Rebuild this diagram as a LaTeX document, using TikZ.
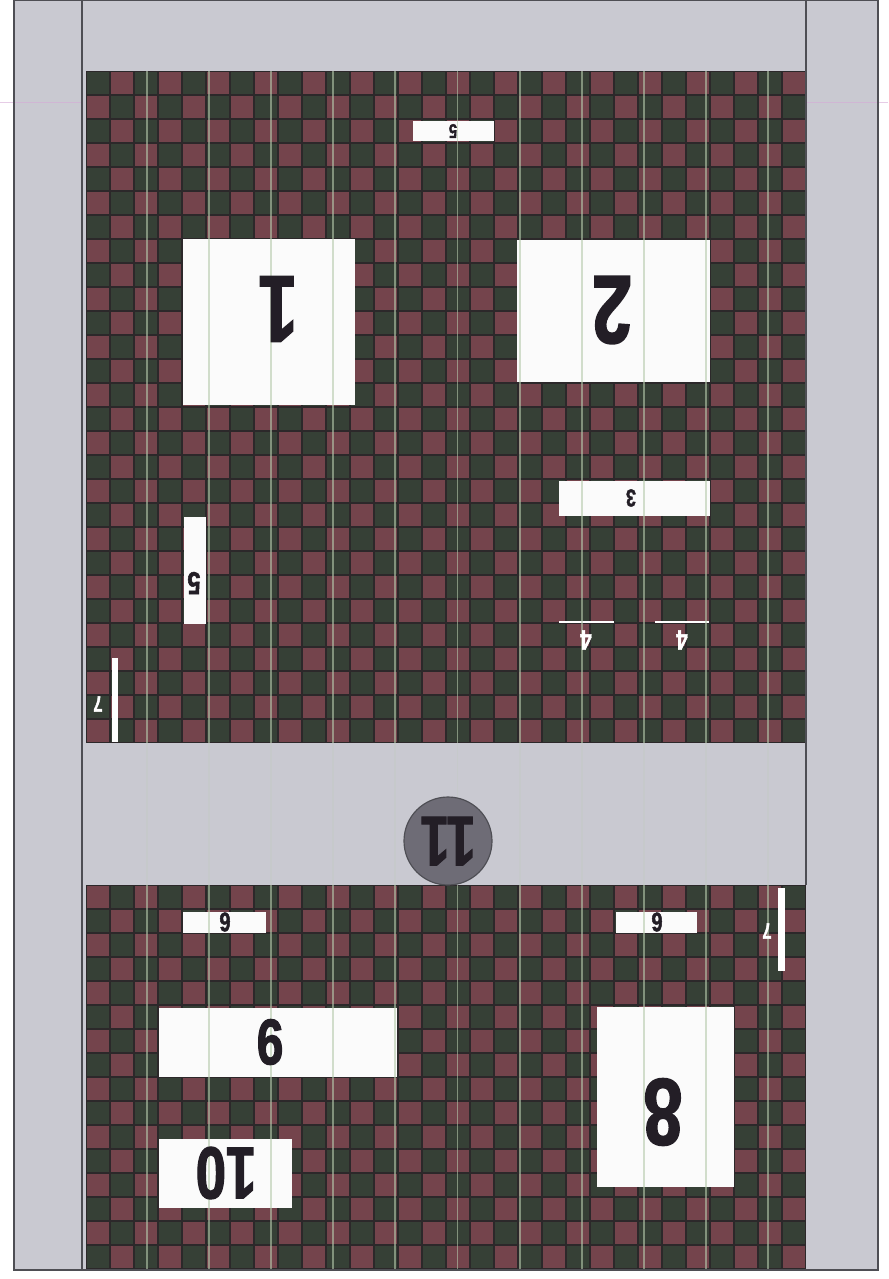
\documentclass[tikz,border=0pt]{standalone}
\usepackage{fontspec}
\usepackage{xcolor}
\usepackage{tikz}
\newfontfamily\numfont[FakeStretch=0.74, FakeBold=1.6]{Liberation Sans}
\definecolor{FloorGray}{RGB}{201,201,209}
\definecolor{FrameGray}{RGB}{78,78,84}
\definecolor{TileRed}{RGB}{116,68,76}
\definecolor{TileGreen}{RGB}{54,64,54}
\definecolor{Seam}{RGB}{44,40,42}
\definecolor{StripeGreen}{RGB}{182,202,172}
\definecolor{InkDark}{RGB}{35,30,38}
\definecolor{PostGray}{RGB}{110,108,118}
\definecolor{ScanPink}{RGB}{214,170,214}

\tikzset{
	num/.style={font=\numfont\bfseries\fontsize{#1}{#1}\selectfont, text=InkDark, rotate=180, inner sep=0pt},
	wnum/.style={num=#1, text=white},
	panel/.style={fill=white!97!gray},
	stripe/.style={StripeGreen, line width=1.6pt, opacity=0.6}
}

\begin{document}
\begin{tikzpicture}[x=0.03cm, y=-0.03cm]
	\useasboundingbox (0,0) rectangle (888,1279);
	% 外框与灰色地面
	\fill[white] (0,0) rectangle (888,1279);
	\fill[FloorGray] (14,0) rectangle (878,1270);
	\draw[ScanPink, opacity=0.6, line width=0.6pt] (0,102) -- (82,102);
	\draw[ScanPink, opacity=0.6, line width=0.6pt] (806,102) -- (888,102);
	
	% 上半棋盘 (30 x 28)
	\fill[Seam] (86,71) rectangle (806,743);
	\foreach \c in {0,...,29}
		\foreach \r in {0,...,27} {
			\ifodd\numexpr\r+\c\relax \def\tile{TileRed}\else \def\tile{TileGreen}\fi
			\fill[\tile] ({86+24*\c+1},{71+24*\r+1}) rectangle +(22,22);
		}
	
	% 下半棋盘 (30 x 16)
	\fill[Seam] (86,885) rectangle (806,1269);
	\foreach \c in {0,...,29}
		\foreach \r in {0,...,15} {
			\ifodd\numexpr\r+\c\relax \def\tile{TileGreen}\else \def\tile{TileRed}\fi
			\fill[\tile] ({86+24*\c+1},{885+24*\r+1}) rectangle +(22,22);
		}
	
	% 框线
	\draw[FrameGray, line width=1.4pt] (14,0) rectangle (878,1270);
	\draw[FrameGray, line width=1.4pt] (82,0) -- (82,1270);
	\draw[FrameGray, line width=1.4pt] (806,0) -- (806,885);
	
	% 白色区块
	\fill[panel] (183,239) rectangle (355,405);
	\fill[panel] (517,240) rectangle (710,382);
	\fill[panel] (559,481) rectangle (710,516);
	\fill[panel] (413,121) rectangle (494,141);
	\fill[panel] (184,517) rectangle (206,624);
	\fill[panel] (183,912) rectangle (266,933);
	\fill[panel] (616,912) rectangle (697,933);
	\fill[panel] (597,1007) rectangle (734,1187);
	\fill[panel] (159,1008) rectangle (397,1077);
	\fill[panel] (159,1139) rectangle (292,1208);
	
	% 白色短线
	\draw[white, line width=1.8pt] (559,622) -- (614,622);
	\draw[white, line width=1.8pt] (655,622) -- (709,622);
	\fill[white] (112,658) rectangle (118,742);
	\fill[white] (778,888) rectangle (785,971);
	
	% 竖向条纹
	\foreach \i in {0,...,10} {
		\draw[stripe] ({147+62.1*\i},71) -- ({147+62.1*\i},743);
		\draw[stripe] ({147+62.1*\i},885) -- ({147+62.1*\i},1269);
		\draw[stripe, opacity=0.15] ({147+62.1*\i},743) -- ({147+62.1*\i},885);
	}
	
	% 圆柱 11
	\draw[fill=PostGray, draw=FrameGray, line width=1pt] (448,841) circle (44);
	
	% 编号
	\node[num=81pt] (t1) at (278,309) {1};
	\node[num=83pt] (t2) at (612,310) {2};
	\node[num=21pt] (t3) at (631,498) {3};
	\node[wnum=24pt] (t4a) at (586,640) {4};
	\node[wnum=24pt] (t4b) at (682,640) {4};
	\node[num=17pt] (t5a) at (453,131) {5};
	\node[num=27pt] (t5b) at (194,583) {5};
	\node[num=23pt] (t6a) at (225,922) {6};
	\node[num=23pt] (t6b) at (657,922) {6};
	\node[wnum=19pt] (t7a) at (98,704) {7};
	\node[wnum=19pt] (t7b) at (767,931) {7};
	\node[num=81pt] (t8) at (663,1112) {8};
	\node[num=55pt] (t9) at (270,1042) {9};
	\node[num=63pt] (t10) at (226,1173) {10};
	\node[num=60pt] (t11) at (448,841) {11};
\end{tikzpicture}
\end{document}
